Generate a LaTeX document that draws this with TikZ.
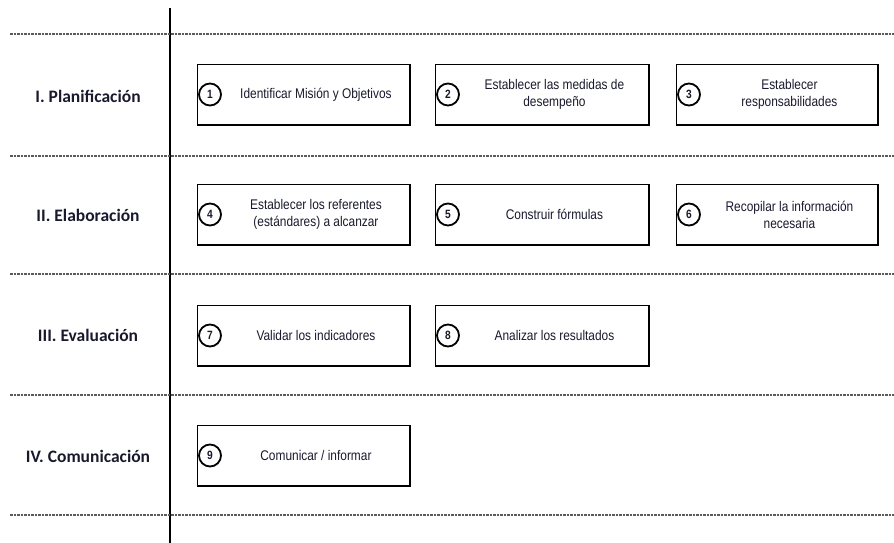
\documentclass[tikz,border=0pt]{standalone}
\usepackage{fontspec}
\setmainfont{Liberation Sans}
\newfontfamily\boxfont[FakeStretch=0.85]{Liberation Sans}
\newfontfamily\labelfont{Carlito}
\usetikzlibrary{calc}
\definecolor{textcol}{RGB}{25,25,45}
\definecolor{dashcol}{RGB}{90,90,90}
\begin{document}
\begin{tikzpicture}[x=1pt,y=-1pt,
  rowline/.style={draw=dashcol, line width=1.3pt, dash pattern=on 2.5pt off 1pt},
  stepbox/.style={draw, line width=1pt, minimum width=#1, minimum height=60pt, anchor=north west, inner sep=0pt},
  heavy/.style={line width=2.2pt},
  numcirc/.style={circle, draw, line width=1.8pt, minimum size=22pt, inner sep=0pt, text=textcol, font=\boxfont\bfseries\fontsize{12}{13}\selectfont},
  boxtext/.style={align=center, text=textcol, font=\boxfont\fontsize{14}{17}\selectfont},
  rowlabel/.style={text=textcol, font=\labelfont\bfseries\fontsize{17.5}{20}\selectfont}]
\useasboundingbox (0,0) rectangle (894,543);

% vertical separator
\coordinate (vt) at (170,8);
\coordinate (vb) at (170,543);
\draw[line width=1.6pt] (vt) -- (vb);

% dashed row separators
\foreach \i/\y in {1/34,2/156,3/274,4/395,5/515}{
  \coordinate (dl\i) at (10,\y);
  \coordinate (dr\i) at (894,\y);
  \draw[rowline] (dl\i) -- (dr\i);
}

% row labels
\node[rowlabel] (r1) at (88,96) {I. Planificación};
\node[rowlabel] (r2) at (88,215) {II. Elaboración};
\node[rowlabel] (r3) at (88,335) {III. Evaluación};
\node[rowlabel] (r4) at (88,456) {IV. Comunicación};

% row 1
\node[stepbox=212pt] (b1) at (197,64) {};
\node[numcirc] (c1) at ([xshift=13pt]b1.west) {1};
\node[boxtext] (t1) at ($(c1.east)!0.5!(b1.east)$) {Identificar Misión y Objetivos};
\draw[heavy] (b1.north east) -- (b1.south east) -- (b1.south west);

\node[stepbox=213pt] (b2) at (435,64) {};
\node[numcirc] (c2) at ([xshift=13pt]b2.west) {2};
\node[boxtext] (t2) at ($(c2.east)!0.5!(b2.east)$) {Establecer las medidas de\\desempeño};
\draw[heavy] (b2.north east) -- (b2.south east) -- (b2.south west);

\node[stepbox=201pt] (b3) at (676,64) {};
\node[numcirc] (c3) at ([xshift=13pt]b3.west) {3};
\node[boxtext] (t3) at ($(c3.east)!0.5!(b3.east)$) {Establecer\\responsabilidades};
\draw[heavy] (b3.north east) -- (b3.south east) -- (b3.south west);

% row 2
\node[stepbox=212pt] (b4) at (197,184) {};
\node[numcirc] (c4) at ([xshift=13pt]b4.west) {4};
\node[boxtext] (t4) at ($(c4.east)!0.5!(b4.east)$) {Establecer los referentes\\(estándares) a alcanzar};
\draw[heavy] (b4.north east) -- (b4.south east) -- (b4.south west);

\node[stepbox=213pt] (b5) at (435,184) {};
\node[numcirc] (c5) at ([xshift=13pt]b5.west) {5};
\node[boxtext] (t5) at ($(c5.east)!0.5!(b5.east)$) {Construir fórmulas};
\draw[heavy] (b5.north east) -- (b5.south east) -- (b5.south west);

\node[stepbox=201pt] (b6) at (676,184) {};
\node[numcirc] (c6) at ([xshift=13pt]b6.west) {6};
\node[boxtext] (t6) at ($(c6.east)!0.5!(b6.east)$) {Recopilar la información\\necesaria};
\draw[heavy] (b6.north east) -- (b6.south east) -- (b6.south west);

% row 3
\node[stepbox=212pt] (b7) at (197,305) {};
\node[numcirc] (c7) at ([xshift=13pt]b7.west) {7};
\node[boxtext] (t7) at ($(c7.east)!0.5!(b7.east)$) {Validar los indicadores};
\draw[heavy] (b7.north east) -- (b7.south east) -- (b7.south west);

\node[stepbox=213pt] (b8) at (435,305) {};
\node[numcirc] (c8) at ([xshift=13pt]b8.west) {8};
\node[boxtext] (t8) at ($(c8.east)!0.5!(b8.east)$) {Analizar los resultados};
\draw[heavy] (b8.north east) -- (b8.south east) -- (b8.south west);

% row 4
\node[stepbox=212pt] (b9) at (197,425) {};
\node[numcirc] (c9) at ([xshift=13pt]b9.west) {9};
\node[boxtext] (t9) at ($(c9.east)!0.5!(b9.east)$) {Comunicar / informar};
\draw[heavy] (b9.north east) -- (b9.south east) -- (b9.south west);
\end{tikzpicture}
\end{document}
